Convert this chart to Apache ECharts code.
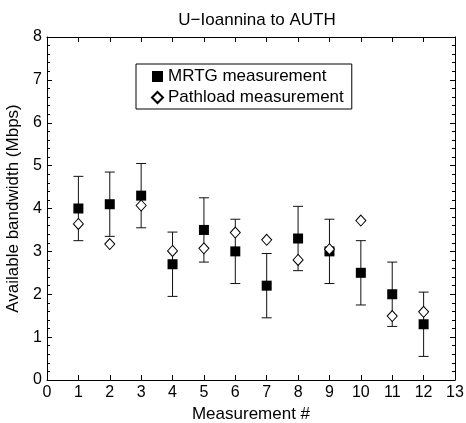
<!DOCTYPE html>
<html>
<head>
<meta charset="utf-8">
<script src="https://cdn.jsdelivr.net/npm/echarts@6/dist/echarts.min.js"></script>
<style>
  html, body { margin: 0; padding: 0; background: #fff; }
  #chart { width: 466px; height: 423px; }
</style>
</head>
<body>
<div id="chart"></div>
<script>
// measurement numbers
const measurements = [1, 2, 3, 4, 5, 6, 7, 8, 9, 10, 11, 12]
// MRTG mean and error half-width (Mbps)
const mrtgValues = [4.0, 4.1, 4.3, 2.7, 3.5, 3.0, 2.2, 3.3, 3.0, 2.5, 2.0, 1.3]
const mrtgErrors = [0.75, 0.75, 0.75, 0.75, 0.75, 0.75, 0.75, 0.75, 0.75, 0.75, 0.75, 0.75]
// pathload estimates (Mbps)
const pathloadValues = [3.64, 3.17, 4.07, 3.01, 3.07, 3.44, 3.27, 2.8, 3.05, 3.72, 1.49, 1.59]

const font = 'Liberation Sans, Arial, sans-serif'

let myChart = echarts.init(document.getElementById('chart'))

let errorData = measurements.map((m, i) => [m, mrtgValues[i] - mrtgErrors[i], mrtgValues[i] + mrtgErrors[i]])

// common axis look: inward ticks, black line
let axisBase = {
  type: 'value',
  axisLine: { show: true, onZero: false, lineStyle: { color: '#000', width: 1 } },
  axisTick: { show: true, inside: true, length: 5, lineStyle: { color: '#000' } },
  splitLine: { show: false },
  axisLabel: { color: '#000', fontFamily: font, fontSize: 16, margin: 5 }
}

let option = {
  animation: false,
  backgroundColor: '#fff',
  title: {
    text: 'U\u2212Ioannina to AUTH',
    left: 252,
    textAlign: 'center',
    top: 7,
    textStyle: { fontFamily: font, fontSize: 17, fontWeight: 'normal', color: '#000' }
  },
  grid: { left: 47, right: 11, top: 37, bottom: 43, outerBoundsMode: 'none' },
  legend: {
    orient: 'vertical',
    left: 136,
    top: 64,
    borderColor: '#000',
    borderWidth: 1,
    padding: [4, 8, 3, 15],
    itemGap: 4,
    itemWidth: 11,
    itemHeight: 11,
    textStyle: { fontFamily: font, fontSize: 17, color: '#000' },
    data: [
      { name: 'MRTG measurement', icon: 'rect' },
      { name: 'Pathload measurement', icon: 'diamond' }
    ]
  },
  xAxis: [
    Object.assign({}, axisBase, {
      min: 0, max: 13, interval: 1,
      name: 'Measurement #',
      nameLocation: 'middle',
      nameGap: 26,
      nameTextStyle: { fontFamily: font, fontSize: 17, color: '#000' }
    }),
    Object.assign({}, axisBase, {
      position: 'top',
      min: 0, max: 13, interval: 1,
      axisLabel: { show: false }
    })
  ],
  yAxis: [
    Object.assign({}, axisBase, {
      min: 0, max: 8, interval: 1,
      name: 'Available bandwidth (Mbps)',
      nameLocation: 'middle',
      nameGap: 24,
      nameTextStyle: { fontFamily: font, fontSize: 17, color: '#000' },
      minorTick: { show: true, splitNumber: 5, length: 3, lineStyle: { color: '#000' } }
    }),
    Object.assign({}, axisBase, {
      position: 'right',
      min: 0, max: 8, interval: 1,
      axisLabel: { show: false },
      minorTick: { show: true, splitNumber: 5, length: 3, lineStyle: { color: '#000' } }
    })
  ],
  series: [
    {
      name: 'errorbars',
      type: 'custom',
      silent: true,
      z: 1,
      renderItem(params, api) {
        let x = api.value(0)
        let lo = api.coord([x, api.value(1)])
        let hi = api.coord([x, api.value(2)])
        let w = 5
        let style = { stroke: '#111', lineWidth: 1 }
        return {
          type: 'group',
          children: [
            { type: 'line', shape: { x1: lo[0], y1: lo[1], x2: hi[0], y2: hi[1] }, style },
            { type: 'line', shape: { x1: lo[0] - w, y1: lo[1], x2: lo[0] + w, y2: lo[1] }, style },
            { type: 'line', shape: { x1: hi[0] - w, y1: hi[1], x2: hi[0] + w, y2: hi[1] }, style }
          ]
        }
      },
      data: errorData
    },
    {
      name: 'MRTG measurement',
      type: 'scatter',
      symbol: 'rect',
      symbolSize: 10,
      z: 3,
      itemStyle: { color: '#000', opacity: 1 },
      data: measurements.map((m, i) => [m, mrtgValues[i]])
    },
    {
      name: 'Pathload measurement',
      type: 'scatter',
      symbol: 'diamond',
      symbolSize: [10, 11],
      z: 4,
      itemStyle: { color: '#fff', borderColor: '#000', borderWidth: 1, opacity: 1 },
      data: measurements.map((m, i) => [m, pathloadValues[i]])
    }
  ]
}

myChart.setOption(option)
</script>
</body>
</html>
